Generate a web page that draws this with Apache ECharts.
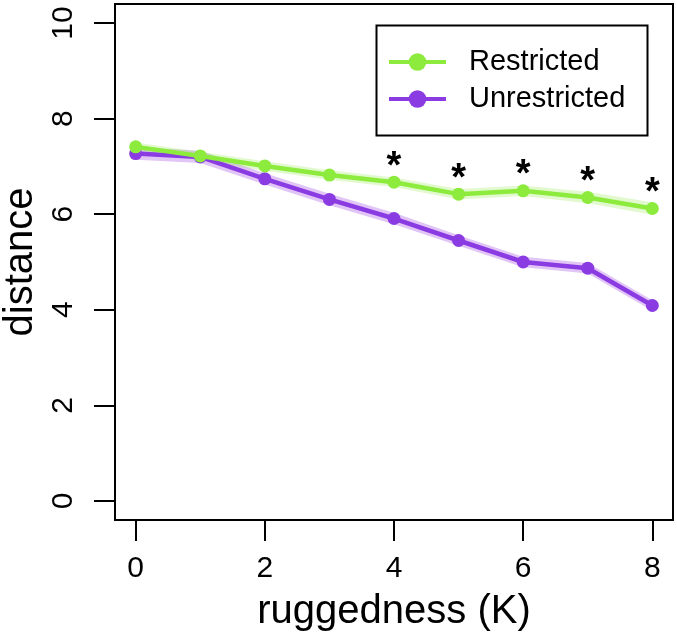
<!DOCTYPE html>
<html lang="en">
<head>
    <meta charset="UTF-8">
    <title>distance vs ruggedness</title>
    <script src="https://cdn.jsdelivr.net/npm/echarts@6/dist/echarts.min.js"></script>
    <style>
        html, body { margin: 0; padding: 0; background: #fff; }
    </style>
</head>
<body>
    <div id="chartDiv" style="width: 677px;height:639px;"></div>
    <script>
        // values
        var ruggedness = [0, 1, 2, 3, 4, 5, 6, 7, 8];
        var restricted = [7.41, 7.22, 7.01, 6.82, 6.67, 6.42, 6.49, 6.35, 6.12];
        var unrestricted = [7.27, 7.20, 6.74, 6.31, 5.91, 5.45, 5.00, 4.87, 4.09];
        // half width of the shaded bands
        var restrictedErr = [0.09, 0.09, 0.10, 0.10, 0.10, 0.11, 0.11, 0.12, 0.13];
        var unrestrictedErr = [0.13, 0.13, 0.12, 0.12, 0.12, 0.11, 0.11, 0.11, 0.11];
        // significance marks
        var stars = ['', '', '', '', '*', '*', '*', '*', '*'];
        var xTicks = [0, 2, 4, 6, 8];
        var yTicks = [0, 2, 4, 6, 8, 10];

        var green = '#8CEB3C';
        var purple = '#8B3BE2';
        var font = 'Liberation Sans, Arial, Helvetica, sans-serif';

        function pairs(ys) {
            return ruggedness.map(function (x, i) { return [x, ys[i]]; });
        }

        // polygon of mean +- err, drawn once through the axes
        function bandSeries(name, mean, err, fill) {
            return {
                name: name,
                type: 'custom',
                silent: true,
                z: 1,
                data: [[0, 0]],
                renderItem: function (params, api) {
                    if (params.dataIndex !== 0) return;
                    var pts = [];
                    for (var i = 0; i < ruggedness.length; i++) {
                        pts.push(api.coord([ruggedness[i], mean[i] + err[i]]));
                    }
                    for (var j = ruggedness.length - 1; j >= 0; j--) {
                        pts.push(api.coord([ruggedness[j], mean[j] - err[j]]));
                    }
                    return {
                        type: 'polygon',
                        shape: { points: pts },
                        style: { fill: fill, stroke: null }
                    };
                }
            };
        }

        var greenData = pairs(restricted).map(function (p, i) {
            var item = { value: p };
            if (stars[i]) {
                item.label = {
                    show: true,
                    formatter: stars[i],
                    position: 'inside',
                    offset: [0, -15],
                    color: '#000',
                    fontSize: 38,
                    fontWeight: 'bold',
                    fontFamily: font
                };
            }
            return item;
        });

        var mychart = echarts.init(document.getElementById('chartDiv'));

        var option = {
            animation: false,
            grid: {
                left: 115, right: 4, top: 4, bottom: 119,
                outerBoundsMode: 'none',
                containLabel: false,
                show: true,
                borderColor: '#000',
                borderWidth: 2,
                backgroundColor: 'transparent'
            },
            xAxis: {
                type: 'value',
                min: -0.32,
                max: 8.32,
                name: 'ruggedness (K)',
                nameLocation: 'middle',
                nameGap: 72,
                nameTextStyle: { color: '#000', fontSize: 40, fontFamily: font },
                axisLine: { show: false, onZero: false },
                splitLine: { show: false },
                axisTick: {
                    show: true, length: 21, inside: false,
                    customValues: xTicks,
                    lineStyle: { color: '#000', width: 2 }
                },
                axisLabel: {
                    customValues: xTicks,
                    margin: 34,
                    color: '#000', fontSize: 30, fontFamily: font
                }
            },
            yAxis: {
                type: 'value',
                min: -0.4,
                max: 10.4,
                name: 'distance',
                nameLocation: 'middle',
                nameGap: 74,
                nameTextStyle: { color: '#000', fontSize: 40, fontFamily: font },
                axisLine: { show: false, onZero: false },
                splitLine: { show: false },
                axisTick: {
                    show: true, length: 21, inside: false,
                    customValues: yTicks,
                    lineStyle: { color: '#000', width: 2 }
                },
                axisLabel: {
                    customValues: yTicks,
                    rotate: 90,
                    margin: 36,
                    color: '#000', fontSize: 30, fontFamily: font
                }
            },
            legend: {
                orient: 'vertical',
                left: 382,
                top: 42,
                itemWidth: 57,
                itemHeight: 22,
                itemGap: 7,
                data: ['Restricted', 'Unrestricted'],
                lineStyle: { width: 4 },
                textStyle: {
                    color: '#000', fontSize: 29, fontFamily: font,
                    lineHeight: 30, padding: [0, 0, 0, 18]
                }
            },
            graphic: [{
                type: 'rect',
                left: 374, top: 23,
                shape: { width: 271, height: 110 },
                style: { fill: 'none', stroke: '#000', lineWidth: 2 },
                z: 0
            }],
            series: [
                bandSeries('uBand', unrestricted, unrestrictedErr, 'rgba(177, 102, 232, 0.38)'),
                bandSeries('rBand', restricted, restrictedErr, 'rgba(141, 232, 63, 0.25)'),
                {
                    name: 'Unrestricted',
                    type: 'line',
                    z: 3,
                    data: pairs(unrestricted),
                    symbol: 'circle',
                    symbolSize: 13,
                    color: purple,
                    lineStyle: { color: purple, width: 4.5 },
                    itemStyle: { color: purple }
                },
                {
                    name: 'Restricted',
                    type: 'line',
                    z: 4,
                    data: greenData,
                    symbol: 'circle',
                    symbolSize: 13,
                    color: green,
                    lineStyle: { color: green, width: 4.5 },
                    itemStyle: { color: green }
                }
            ]
        };

        mychart.setOption(option, true);
    </script>
</body>
</html>
